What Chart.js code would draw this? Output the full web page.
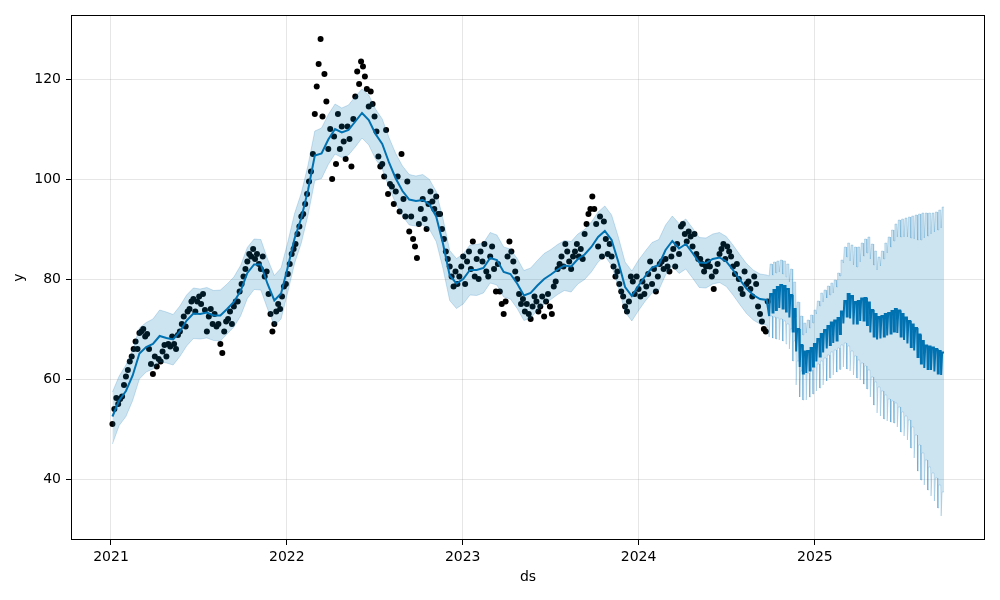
<!DOCTYPE html>
<html><head><meta charset="utf-8">
<script src="https://cdn.jsdelivr.net/npm/chart.js@4.4.1/dist/chart.umd.min.js"></script>
<style>html,body{margin:0;padding:0;background:#fff;}canvas{display:block;}</style>
</head><body>
<canvas id="c" width="1000" height="600"></canvas>
<script>
// x values are days since 2021-01-01
const yearTicks = [0, 365, 730, 1095, 1461];
const yearLabels = ['2021', '2022', '2023', '2024', '2025'];
const yTicks = [40, 60, 80, 100, 120];

// observed points (every 4th day from 2021-01-04)
const obsStartDay = 3, obsStepDays = 4;
const observed = [
 51.0,54.0,56.2,55.0,56.0, 56.5,58.8,60.5,61.8,63.5, 64.5,66.0,67.5,66.0,69.2, 69.5,70.0,68.5,69.0,66.0,
 63.0,61.0,64.5,62.5,64.0, 63.5,65.5,66.8,64.5,67.0, 66.5,68.5,67.0,66.0,68.8, 69.5,71.0,72.5,70.5,73.5,
 74.0,75.5,76.0,73.5,75.5, 76.5,75.0,77.0,73.8,69.5, 72.5,74.0,71.0,73.0,70.5, 71.0,67.0,65.2,69.5,71.5,
 72.0,73.5,71.0,74.5,75.5, 75.5,77.5,79.0,80.5,82.0, 83.5,85.0,84.5,86.0,84.0, 85.0,83.0,82.0,84.5,80.5,
 81.5,77.0,73.0,69.5,71.0, 73.5,75.0,74.0,76.5,78.5, 79.0,81.0,83.0,85.0,86.0, 87.0,89.0,90.5,92.5,93.0,
 95.0,97.0,99.5,101.5,105.0, 113.0,118.5,123.0,128.0,112.5, 121.0,115.5,106.0,110.0,100.0, 108.5,103.0,113.0,106.0,110.5,
 107.5,104.0,110.5,108.0,102.5, 112.0,116.5,121.5,119.0,123.5, 122.5,120.5,118.0,114.5,117.5, 115.0,112.5,109.5,104.5,102.5,
 103.0,100.5,109.8,97.0,99.0, 98.5,95.0,97.5,100.5,93.5, 105.0,96.0,92.5,99.5,89.5, 92.5,88.0,86.5,84.2,91.0,
 94.0,96.0,92.0,90.0,95.0, 97.5,95.5,94.0,96.5,93.0, 93.0,90.0,88.0,85.5,84.0, 82.5,80.5,78.5,81.5,79.0,
 80.5,82.5,84.5,79.0,83.5, 85.5,82.0,87.5,80.5,84.0, 80.0,85.5,83.5,87.0,81.5, 80.5,84.5,86.5,82.0,77.5,
 83.0,77.5,75.0,73.0,75.5, 84.5,87.5,85.5,83.5,81.5, 80.0,77.0,75.0,76.0,73.5, 75.0,73.0,72.0,74.5,76.5,
 75.5,73.5,74.5,76.5,72.5, 75.5,77.0,74.5,73.0,78.5, 79.5,82.0,83.0,84.5,82.5, 87.0,85.5,83.5,82.0,84.5,
 85.5,87.0,84.5,86.0,84.0, 89.0,91.0,93.0,94.0,96.5, 94.0,91.0,86.5,92.5,84.5, 91.5,88.0,85.0,87.0,84.5,
 82.5,80.5,81.5,79.0,77.5, 76.5,74.5,73.5,75.5,80.5, 79.5,77.0,80.5,78.0,76.5, 79.5,77.0,78.5,81.0,83.5,
 79.0,82.0,77.5,80.5,83.0, 83.5,82.0,84.0,82.5,81.5, 84.5,86.0,82.5,87.0,85.0, 90.5,91.0,89.0,87.5,89.5,
 88.5,86.5,89.0,85.0,84.0, 84.0,83.0,81.5,82.5,83.5, 82.5,80.5,78.0,81.5,83.0, 85.0,86.0,87.0,84.0,86.5,
 85.5,84.5,82.5,81.0,83.0, 80.0,78.0,77.0,81.5,79.0, 79.5,78.0,76.5,80.5,79.0, 74.5,73.0,71.5,70.0,69.5,
 75.5
];

// fitted values on history (every 14th day from 2021-01-04)
const histStartDay = 3, histStepDays = 14;
const yhatHist = [
 52.5,55.7,57.6,60.7,65.1,66.4,67.0,68.6,68.2,67.9,
 69.5,71.7,73.1,73.0,73.3,72.7,72.7,74.0,75.4,77.6,
 81.2,82.9,82.9,79.0,75.7,77.1,82.4,88.1,92.2,97.8,
 104.7,105.1,107.9,110.0,109.3,109.8,111.5,113.2,111.8,109.0,
 107.0,103.3,100.1,97.6,95.9,95.6,95.8,94.9,92.5,87.1,
 80.7,79.1,80.0,81.8,81.8,82.2,84.2,83.8,81.4,81.0,
 79.1,76.7,77.2,78.7,80.0,80.9,81.9,82.7,82.5,84.0,
 84.9,86.4,88.4,89.6,87.8,83.4,78.4,76.6,78.7,80.6,
 82.3,82.8,85.8,87.6,86.1,87.0,85.2,83.3,83.2,84.0,
 84.3,83.5,81.8,79.9,78.1,76.8,76.0,75.8
];
const upperHist = [
 57.4,60.6,62.8,65.8,70.2,71.3,72.0,73.8,73.4,72.9,
 74.6,76.8,78.2,78.0,78.3,77.7,77.8,79.0,80.4,82.7,
 86.3,88.0,87.9,84.0,80.7,82.2,87.4,93.1,97.2,102.8,
 109.6,110.2,112.9,115.0,114.2,114.8,116.5,118.0,116.8,114.0,
 112.0,108.3,105.1,102.6,100.9,100.6,100.9,99.9,97.5,92.1,
 85.7,84.1,85.0,86.8,86.9,87.2,89.3,88.8,86.4,86.0,
 84.1,81.7,82.2,83.7,85.1,85.9,86.9,87.7,87.5,89.0,
 89.9,91.4,93.4,94.6,92.8,88.4,83.4,81.6,83.8,85.6,
 87.3,87.9,90.8,92.6,91.1,92.0,90.2,88.3,88.2,89.0,
 89.3,88.5,86.8,84.9,83.1,81.8,81.0,80.8
];
const lowerHist = [
 47.0,50.7,52.5,55.7,60.0,61.4,62.0,63.5,63.2,62.8,
 64.5,66.6,68.1,68.0,68.2,67.7,67.6,69.0,70.4,72.6,
 76.1,77.9,77.8,74.0,70.7,72.0,77.4,83.1,87.2,92.8,
 99.7,100.1,102.9,105.0,104.3,104.8,106.4,108.2,106.8,104.0,
 102.0,98.3,95.1,92.6,90.8,90.6,90.8,89.9,87.5,82.1,
 75.7,74.1,75.0,76.8,76.7,77.2,79.2,78.8,76.4,76.0,
 74.1,71.7,72.2,73.7,75.0,75.9,76.9,77.7,77.4,79.0,
 79.9,81.4,83.4,84.6,82.7,78.4,73.4,71.6,73.7,75.6,
 77.2,77.8,80.8,82.6,81.1,82.0,80.2,78.3,78.2,79.0,
 79.3,78.5,76.8,74.9,73.1,71.8,71.0,70.8
];

// forecast: one weekday value and one weekend value per week
const futureStartDay = 1366;
const yhatWeekday = [
 77.0,77.8,78.4,78.8,78.6,78.0,76.8,74.0,70.0,66.8,
 65.5,65.6,66.2,67.0,68.0,69.0,69.8,70.6,71.3,71.7,
 72.2,73.5,75.6,77.0,76.6,75.4,75.6,76.1,76.2,75.3,
 73.8,73.0,72.4,72.6,73.0,73.2,73.6,74.0,73.7,73.0,
 72.3,71.6,70.9,70.2,68.9,67.6,66.7,66.5,66.3,66.0,
 65.6,65.3
];
const yhatWeekend = [
 72.6,73.3,73.8,74.2,74.1,73.5,72.3,69.5,65.5,62.4,
 61.1,61.2,61.7,62.5,63.5,64.5,65.3,66.1,66.8,67.2,
 67.7,69.0,71.1,72.5,72.1,70.9,71.1,71.6,71.7,70.8,
 69.3,68.5,67.9,68.1,68.5,68.7,69.1,69.5,69.2,68.5,
 67.8,67.1,66.4,65.7,64.4,63.1,62.2,62.0,61.8,61.5,
 61.1,60.8
];
const upperWeekday = [
 83.0,83.4,83.6,83.8,83.6,83.0,82.0,79.4,75.4,72.6,
 71.2,71.8,72.8,73.8,75.6,77.2,77.8,78.6,79.2,79.8,
 81.2,83.8,86.4,87.2,86.8,86.4,86.4,87.2,88.0,88.4,
 87.0,85.6,84.4,85.6,87.2,88.4,89.8,91.0,91.8,92.0,
 92.2,92.4,92.6,92.8,93.0,93.2,93.2,93.2,93.2,93.4,
 93.8,94.4
];
const upperWeekend = [
 80.6,80.8,81.2,81.4,81.0,80.4,79.4,77.0,72.4,70.0,
 68.8,69.2,70.2,71.2,73.0,74.6,75.4,76.2,76.8,77.2,
 78.4,80.6,83.2,84.4,83.6,82.8,82.4,83.4,84.6,85.2,
 84.0,82.8,81.8,82.6,84.0,85.2,86.4,87.6,88.4,88.4,
 88.4,88.4,88.2,88.0,87.8,87.8,88.2,88.6,89.0,89.4,
 89.8,90.2
];
const lowerWeekday = [
 72.6,72.4,72.2,72.0,71.6,71.0,70.0,67.6,63.6,61.6,
 61.0,61.2,61.8,62.4,63.0,63.6,64.2,64.8,65.4,65.8,
 66.2,66.8,67.2,66.6,65.6,64.6,63.8,63.2,62.6,61.8,
 60.4,59.4,58.4,57.6,56.8,56.0,55.6,55.2,54.4,53.4,
 52.6,51.8,50.4,48.8,46.8,45.2,43.8,42.4,41.2,40.2,
 38.8,37.4
];
const lowerWeekend = [
 68.4,68.2,68.0,67.8,67.6,67.0,66.0,63.6,58.8,56.4,
 55.8,55.8,56.4,57.0,57.6,58.2,58.8,59.6,60.2,60.8,
 61.4,61.9,62.4,62.0,61.6,60.8,60.2,59.8,59.0,58.0,
 56.4,54.8,53.2,52.6,52.0,51.6,51.4,51.2,50.4,49.4,
 48.6,47.8,46.2,44.2,41.6,39.8,38.8,37.8,36.6,35.6,
 34.2,32.6
];

function buildSeries(hist, wk, we) {
  const pts = hist.map((v, i) => ({x: histStartDay + i * histStepDays, y: v}));
  wk.forEach((v, k) => {
    const d = futureStartDay + 7 * k; // Saturday
    pts.push({x: d, y: we[k]}, {x: d + 1, y: we[k]}, {x: d + 2, y: v}, {x: d + 6, y: v});
  });
  return pts;
}
const obsPoints = observed.map((v, i) => ({x: obsStartDay + i * obsStepDays, y: v}));

const BLUE = '#0072B2';
const BAND = 'rgba(0,114,178,0.2)';
const GRID = 'rgba(128,128,128,0.2)';
const FONT = {family: '"DejaVu Sans", sans-serif', size: 14};

const framePlugin = {
  id: 'frame',
  afterDraw(chart) {
    const {ctx, chartArea: a} = chart;
    ctx.save();
    ctx.strokeStyle = '#000';
    ctx.lineWidth = 1;
    ctx.strokeRect(Math.round(a.left) + 0.5, Math.round(a.top) + 0.5,
                   Math.round(a.right - a.left) - 1, Math.round(a.bottom - a.top) - 1);
    ctx.restore();
  }
};

Chart.defaults.color = '#000';
new Chart(document.getElementById('c'), {
  type: 'line',
  data: {
    datasets: [
      {label: 'upper', data: buildSeries(upperHist, upperWeekday, upperWeekend),
       borderColor: BAND, borderWidth: 1, pointRadius: 0, fill: '+1', backgroundColor: BAND, tension: 0},
      {label: 'lower', data: buildSeries(lowerHist, lowerWeekday, lowerWeekend),
       borderColor: BAND, borderWidth: 1, pointRadius: 0, fill: false, tension: 0},
      {label: 'yhat', data: buildSeries(yhatHist, yhatWeekday, yhatWeekend),
       borderColor: BLUE, borderWidth: 2, pointRadius: 0, fill: false, tension: 0},
      {label: 'y', data: obsPoints, showLine: false, pointRadius: 3, pointBorderWidth: 0,
       pointBackgroundColor: '#000', pointBorderColor: '#000'}
    ]
  },
  options: {
    responsive: false, animation: false, devicePixelRatio: 1,
    layout: {padding: {top: 15, right: 15, left: 0, bottom: 0}},
    plugins: {legend: {display: false}, tooltip: {enabled: false}},
    scales: {
      x: {
        type: 'linear', min: -83, max: 1814,
        afterBuildTicks: s => { s.ticks = yearTicks.map(v => ({value: v})); },
        afterFit: s => { s.height = 60; },
        ticks: {callback: (v, i) => yearLabels[i], font: FONT, color: '#000', padding: 4, maxRotation: 0, autoSkip: false},
        grid: {color: GRID, lineWidth: 1, tickColor: '#000', tickLength: 5, tickWidth: 1},
        border: {display: false},
        title: {display: true, text: 'ds', font: FONT, color: '#000', padding: {top: 0, bottom: 14}}
      },
      y: {
        type: 'linear', min: 27.8, max: 132.8,
        afterBuildTicks: s => { s.ticks = yTicks.map(v => ({value: v})); },
        afterFit: s => { s.width = 71; },
        ticks: {font: FONT, color: '#000', padding: 5},
        grid: {color: GRID, lineWidth: 1, tickColor: '#000', tickLength: 5, tickWidth: 1},
        border: {display: false},
        title: {display: true, text: 'y', font: FONT, color: '#000', padding: {top: 11, bottom: 0}}
      }
    }
  },
  plugins: [framePlugin]
});
</script>
</body></html>
